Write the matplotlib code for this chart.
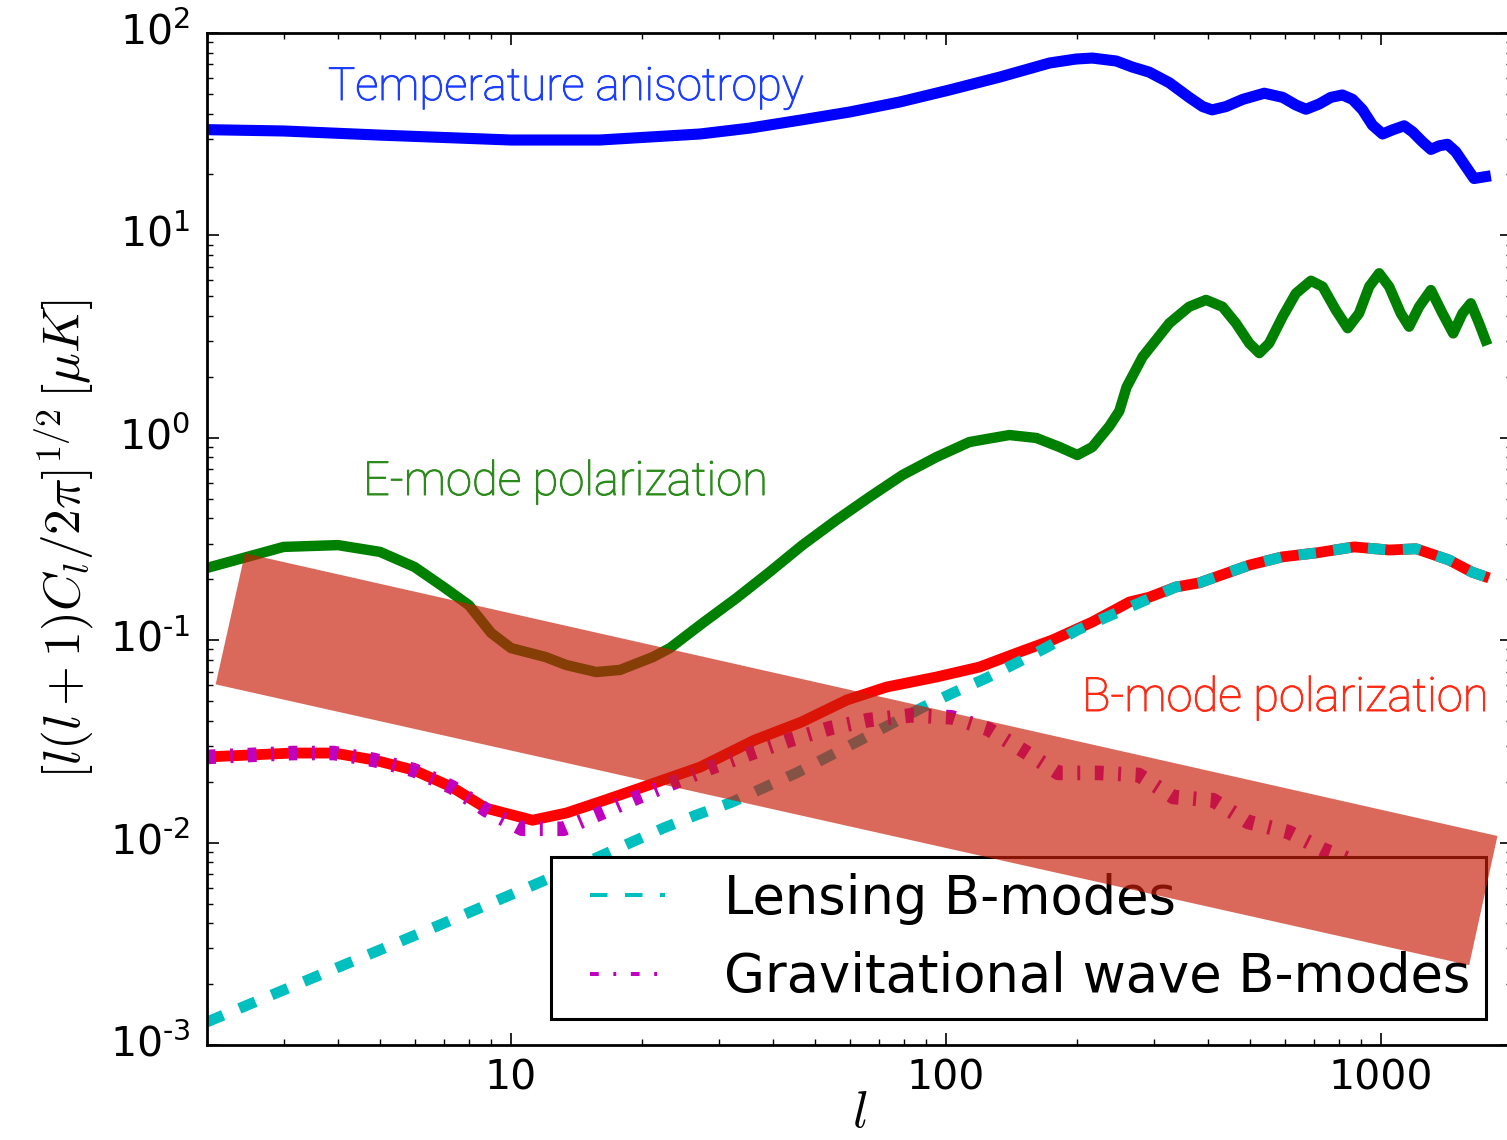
import matplotlib
matplotlib.use("Agg")
import matplotlib.pyplot as plt
from matplotlib.lines import Line2D
from matplotlib.legend_handler import HandlerLine2D
import matplotlib.patheffects as pe

plt.rcParams['lines.scale_dashes'] = False
plt.rcParams['font.family'] = ['DejaVu Sans']

# ---------------- data ----------------
tt_l = [2, 3, 5, 10, 16, 27.2, 35.4, 46.5, 60, 78.2, 101.8, 133, 173, 199.3, 217, 246.3, 268,
        293, 326, 362, 389, 409, 440, 481, 539, 594, 637, 672, 721, 767, 815, 860, 907, 955,
        1008, 1062, 1130, 1181, 1245, 1302, 1360, 1421, 1485, 1566, 1636, 1710, 1788]
tt_v = [33.3, 32.8, 31.3, 29.6, 29.6, 31.7, 33.9, 37.2, 40.7, 45.6, 52.3, 60.6, 71.1, 74.4,
        75.2, 72.7, 67.9, 64.1, 56.8, 48.1, 43.3, 41.7, 43.3, 47.0, 50.4, 48.1, 44.1, 42.0,
        44.6, 48.1, 49.4, 47.0, 41.7, 35.1, 31.7, 33.2, 34.8, 32.5, 29.0, 26.6, 27.7, 28.2,
        25.9, 21.9, 19.1, 19.4, 19.7]

ee_l = [2, 3, 4, 5, 6, 7, 8, 9, 10, 12, 13.4, 15.7, 17.8, 21.2, 23.2, 27.6, 33, 39.3, 46.8,
        56, 66.7, 79.4, 95.1, 113.2, 139.8, 161.3, 182.2, 200.4, 216.9, 237.4, 250.2, 260,
        283, 326, 362, 396, 432, 464, 498, 525, 553, 594, 637, 690, 734, 787, 838, 890,
        939, 990, 1044, 1110, 1160, 1223, 1302, 1384, 1465, 1539, 1608, 1680, 1756]
ee_v = [0.2275, 0.289, 0.295, 0.273, 0.230, 0.183, 0.149, 0.1086, 0.0914, 0.0826, 0.0754,
        0.0696, 0.0713, 0.0826, 0.0915, 0.1217, 0.1616, 0.2173, 0.2954, 0.3926, 0.5098,
        0.6548, 0.8036, 0.9532, 1.032, 0.998, 0.9005, 0.822, 0.9005, 1.141, 1.356, 1.78,
        2.51, 3.68, 4.44, 4.80, 4.44, 3.68, 2.93, 2.62, 2.93, 3.97, 5.17, 5.97, 5.58,
        4.28, 3.48, 4.12, 5.58, 6.50, 5.58, 4.12, 3.54, 4.44, 5.37, 4.12, 3.28, 4.12, 4.62,
        3.68, 2.87]

bb_l = [2, 3.15, 3.92, 4.84, 5.98, 7.31, 8.75, 11.2, 13.4, 16, 19.8, 27.2, 36.3, 46.5, 59.1,
        73, 95.1, 119.4, 147.5, 175.6, 216.9, 263.9, 293, 337, 382, 498, 593, 710, 867, 1044,
        1204, 1433, 1618, 1771]
bb_v = [0.0265, 0.0277, 0.0277, 0.0256, 0.0228, 0.0188, 0.0148, 0.0129, 0.0140, 0.0159,
        0.0186, 0.0236, 0.0321, 0.0394, 0.0506, 0.0587, 0.0658, 0.0737, 0.0874, 0.1002,
        0.123, 0.1544, 0.163, 0.183, 0.192, 0.235, 0.258, 0.27, 0.289, 0.279, 0.283, 0.249,
        0.217, 0.203]

lens_l = [2, 3.49, 6.86, 13.6, 22.4, 26.7, 32.1, 45.3, 63.5, 88.7, 103.5, 123.8, 145.2, 171,
          200.4, 240, 337, 382, 498, 593, 710, 867, 1044, 1204, 1433, 1618, 1771]
lens_v = [0.0013, 0.00214, 0.00392, 0.00733, 0.0118, 0.0137, 0.0158, 0.0221, 0.0321, 0.0468,
          0.0548, 0.065, 0.0772, 0.0926, 0.1123, 0.1332, 0.183, 0.192, 0.235, 0.258, 0.27,
          0.289, 0.279, 0.283, 0.249, 0.217, 0.203]

gw_l = [2, 3.15, 3.92, 4.84, 5.98, 7.31, 8.75, 10.6, 13.2, 16.1, 19.6, 23.8, 29, 35.7, 43.7,
        54.2, 66.3, 82.9, 103, 125, 152, 181, 224, 277, 333, 411, 495, 612, 740, 818, 900]
gw_v = [0.0265, 0.0277, 0.0277, 0.0256, 0.0228, 0.0188, 0.0145, 0.0117, 0.0117, 0.0140,
        0.0168, 0.0199, 0.0236, 0.0277, 0.0321, 0.0368, 0.0403, 0.0425, 0.0416, 0.0364,
        0.0281, 0.0221, 0.0221, 0.0216, 0.0168, 0.0162, 0.01264, 0.01128, 0.00919, 0.00849,
        0.0078]

band_l = [2.445, 2.094, 1594, 1852]
band_v = [0.2687, 0.0605, 0.00248, 0.01078]

HY = '\u2010'
xticks = [10, 100, 1000]
xticklabels = ['10', '100', '1000']
yticks = [1e-3, 1e-2, 1e-1, 1e0, 1e1, 1e2]
yticklabels = ['$10^{' + HY + '3}$', '$10^{' + HY + '2}$', '$10^{' + HY + '1}$',
               '$10^{0}$', '$10^{1}$', '$10^{2}$']

# ---------------- figure ----------------
W, H = 1507, 1140
fig = plt.figure(figsize=(W / 100, H / 100), dpi=100)
ax = fig.add_axes([207 / W, (H - 1045) / H, (1512 - 207) / W, (1045 - 33) / H])
ax.set_xscale('log')
ax.set_yscale('log')
ax.set_xlim(2, 2000)
ax.set_ylim(1e-3, 1e2)

ax.plot(tt_l, tt_v, color='#0000ff', lw=8.0, solid_capstyle='butt', solid_joinstyle='round')
ax.plot(ee_l, ee_v, color='#008000', lw=7.5, solid_capstyle='butt', solid_joinstyle='round')
ax.plot(bb_l, bb_v, color='#ff0000', lw=7.8, solid_capstyle='butt', solid_joinstyle='round')
ax.plot(lens_l, lens_v, color='#00bfbf', lw=7.8, dashes=(12.6, 12.6), dash_capstyle='butt')
ax.plot(gw_l, gw_v, color='#bf00bf', lw=10.5, dashes=(6.3, 10.5, 2.1, 10.5), dash_capstyle='butt')

ax.fill(band_l, band_v, color=(200 / 255, 30 / 255, 10 / 255), alpha=0.67, lw=0, zorder=10)

for sp in ax.spines.values():
    sp.set_linewidth(2.0)
ax.tick_params(which='both', direction='in', top=True, right=True)
ax.tick_params(which='major', length=8.6, width=1.2)
ax.tick_params(which='minor', length=4.3, width=1.0)
ax.tick_params(axis='x', which='major', labelsize=29.5, pad=10)
ax.tick_params(axis='y', which='major', labelsize=29.5, pad=12)
ax.set_xticks(xticks)
ax.set_xticklabels(xticklabels)
ax.set_yticks(yticks)
ax.set_yticklabels(yticklabels)
for t in ax.get_yticklabels():
    t.set_va('center')

ax.set_xlabel(r'$l$', fontsize=37, math_fontfamily='cm', labelpad=-8)
ax.set_ylabel(r'$[l(l+1)C_l/2\pi]^{1/2}\,[\mu K]$', fontsize=37, math_fontfamily='cm', labelpad=10)

# annotations
def note(x, y, s, c, size):
    fig.text(x / W, 1 - y / H, s, color=c, fontsize=size, family='Roboto', weight='light',
             ha='left', va='baseline',
             path_effects=[pe.Stroke(linewidth=0.7, foreground=c), pe.Normal()])

note(328, 100, 'Temperature anisotropy', '#1b3dff', 32.9)
note(363, 495, 'E-mode polarization', '#2a8a1a', 33.9)
note(1082, 711, 'B-mode polarization', '#ff2a14', 33.9)

# legend
h1 = Line2D([], [], color='#00bfbf', lw=2.9, dashes=(12.6, 12.6), dash_capstyle='butt')
h2 = Line2D([], [], color='#bf00bf', lw=2.9, dashes=(6.3, 10.5, 2.1, 10.5), dash_capstyle='butt')
leg = ax.legend([h1, h2], ['Lensing B-modes', 'Gravitational wave B-modes'],
                loc='lower right', bbox_to_anchor=(1486 / W, (H - 1019) / H),
                bbox_transform=fig.transFigure, borderaxespad=0, fontsize=38,
                handlelength=1.86, handletextpad=1.12, borderpad=0.3, labelspacing=0.5,
                fancybox=False, framealpha=1, edgecolor='black',
                handler_map={Line2D: HandlerLine2D(xpad=0.45)})
leg.get_frame().set_linewidth(2.2)
leg.set_zorder(5)

fig.savefig('out.png', dpi=100)
